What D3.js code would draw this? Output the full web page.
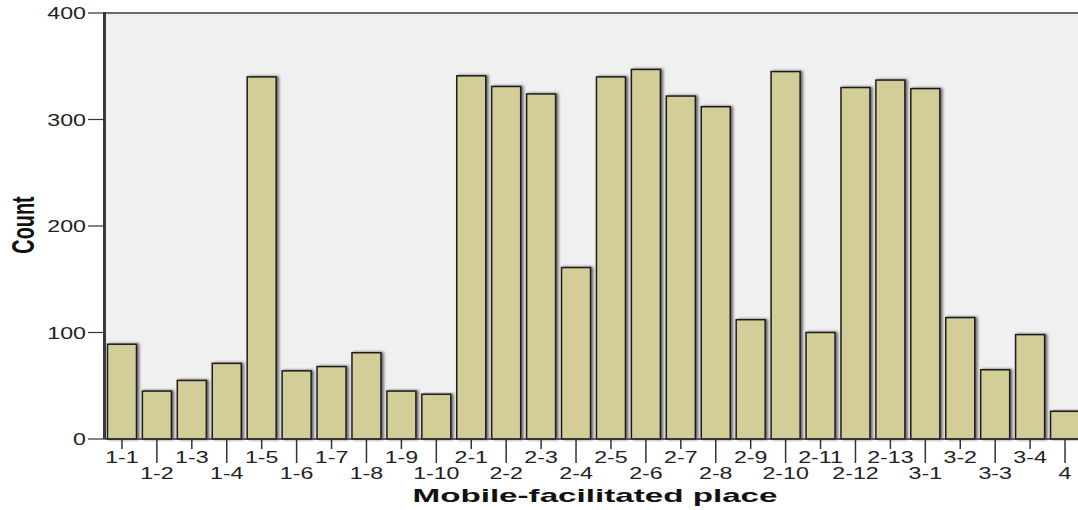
<!DOCTYPE html>
<html>
<head>
<meta charset="utf-8">
<script src="https://cdn.jsdelivr.net/npm/d3@7"></script>
<style>
  body { margin: 0; background: #fff; }
  svg { display: block; }
</style>
</head>
<body>
<div id="chart"></div>
<script>
const categories = ["1-1","1-2","1-3","1-4","1-5","1-6","1-7","1-8","1-9","1-10",
  "2-1","2-2","2-3","2-4","2-5","2-6","2-7","2-8","2-9","2-10","2-11","2-12","2-13",
  "3-1","3-2","3-3","3-4","4"];
const counts = [89,45,55,71,340,64,68,81,45,42,
  341,331,324,161,340,347,322,312,112,345,100,330,337,
  329,114,65,98,26];
const yTicks = [0,100,200,300,400];

const width = 1078, height = 510;
const plotLeft = 104.5, plotRight = 1082.5, plotTop = 13, plotBottom = 439;

const svg = d3.select("#chart").append("svg")
    .attr("width", width)
    .attr("height", height);

const defs = svg.append("defs");
const shadow = defs.append("filter").attr("id", "shadow")
    .attr("x", "-30%").attr("y", "-5%").attr("width", "170%").attr("height", "110%");
shadow.append("feDropShadow")
    .attr("dx", 2).attr("dy", 0).attr("stdDeviation", 1.5)
    .attr("flood-color", "#000").attr("flood-opacity", 0.6);

const x = d3.scaleBand().domain(categories).range([plotLeft, plotRight]).paddingInner(0.17).paddingOuter(0.085);
const y = d3.scaleLinear().domain([0, 400]).range([plotBottom, plotTop]);

// plot background
svg.append("rect")
    .attr("x", plotLeft).attr("y", plotTop)
    .attr("width", width - plotLeft).attr("height", plotBottom - plotTop)
    .attr("fill", "#f0f0f0");

// top frame
svg.append("line")
    .attr("x1", plotLeft).attr("x2", width)
    .attr("y1", plotTop).attr("y2", plotTop)
    .attr("stroke", "#6a6a6a").attr("stroke-width", 2);

// bars
svg.append("g")
    .selectAll("rect")
    .data(counts)
    .join("rect")
    .attr("x", (d, i) => x(categories[i]))
    .attr("y", d => y(d))
    .attr("width", x.bandwidth())
    .attr("height", d => y(0) - y(d))
    .attr("fill", "#d3ce98")
    .attr("stroke", "#1e1e1e")
    .attr("stroke-width", 1.5)
    .attr("filter", "url(#shadow)");

// y axis
svg.append("line")
    .attr("x1", plotLeft).attr("x2", plotLeft)
    .attr("y1", plotTop - 1).attr("y2", plotBottom)
    .attr("stroke", "#3a3a3a").attr("stroke-width", 3);

const yg = svg.append("g");
yg.selectAll("line")
    .data(yTicks)
    .join("line")
    .attr("x1", 88).attr("x2", plotLeft)
    .attr("y1", d => y(d)).attr("y2", d => y(d))
    .attr("stroke", "#333").attr("stroke-width", 1.2);
yg.selectAll("text")
    .data(yTicks)
    .join("text")
    .attr("transform", d => `translate(86,${y(d) + 6}) scale(1.45,1)`)
    .attr("text-anchor", "end")
    .attr("font-family", "Liberation Sans, Arial, sans-serif")
    .attr("font-size", 16)
    .attr("fill", "#222")
    .text(d => d);

// x axis
svg.append("line")
    .attr("x1", plotLeft).attr("x2", width)
    .attr("y1", plotBottom).attr("y2", plotBottom)
    .attr("stroke", "#333").attr("stroke-width", 1.5);

const xg = svg.append("g");
xg.selectAll("line")
    .data(categories)
    .join("line")
    .attr("x1", d => x(d) + x.bandwidth() / 2)
    .attr("x2", d => x(d) + x.bandwidth() / 2)
    .attr("y1", plotBottom)
    .attr("y2", (d, i) => i % 2 === 0 ? 449 : 463)
    .attr("stroke", "#333").attr("stroke-width", 1.5);
xg.selectAll("text")
    .data(categories)
    .join("text")
    .attr("transform", (d, i) => `translate(${x(d) + x.bandwidth() / 2},${i % 2 === 0 ? 463 : 479}) scale(1.45,1)`)
    .attr("text-anchor", "middle")
    .attr("font-family", "Liberation Sans, Arial, sans-serif")
    .attr("font-size", 16)
    .attr("fill", "#222")
    .text(d => d);

// axis titles
svg.append("text")
    .attr("x", 595).attr("y", 502)
    .attr("text-anchor", "middle")
    .attr("font-family", "Liberation Sans, Arial, sans-serif")
    .attr("font-weight", "bold")
    .attr("font-size", 19)
    .attr("textLength", 365)
    .attr("lengthAdjust", "spacingAndGlyphs")
    .attr("fill", "#111")
    .text("Mobile-facilitated place");

svg.append("text")
    .attr("transform", "translate(34,225) rotate(-90) scale(0.64,1)")
    .attr("text-anchor", "middle")
    .attr("font-family", "Liberation Sans, Arial, sans-serif")
    .attr("font-weight", "bold")
    .attr("font-size", 31)
    .attr("fill", "#111")
    .text("Count");
</script>
</body>
</html>
